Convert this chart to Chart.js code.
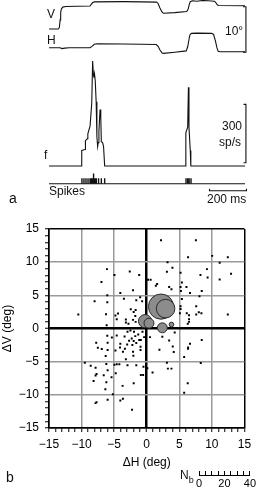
<!DOCTYPE html>
<html>
<head>
<meta charset="utf-8">
<script src="https://cdn.jsdelivr.net/npm/chart.js@4.4.1/dist/chart.umd.min.js"></script>
<style>
body{margin:0;width:258px;height:490px;position:relative;background:#fff;overflow:hidden;font-family:"Liberation Sans",Arial,sans-serif}
canvas{position:absolute}
.t{position:absolute;font-size:12px;line-height:12px;color:#111;white-space:nowrap}
.big{font-size:14px;line-height:14px}
</style>
</head>
<body>
<canvas id="chartA" width="210" height="200" style="left:40px;top:0"></canvas>
<canvas id="chartB" width="258" height="260" style="left:0;top:215px"></canvas>
<canvas id="chartN" width="68" height="24" style="left:190px;top:466px"></canvas>

<div class="t" style="left:47px;top:8px">V</div>
<div class="t" style="left:47px;top:34px">H</div>
<div class="t" style="left:225px;top:25px">10°</div>
<div class="t" style="left:44px;top:149px">f</div>
<div class="t" style="left:222px;top:120px">300</div>
<div class="t" style="left:219px;top:136px">sp/s</div>
<div class="t" style="left:49px;top:185px">Spikes</div>
<div class="t" style="left:207px;top:193px">200 ms</div>
<div class="t big" style="left:9px;top:191px">a</div>
<div class="t big" style="left:6px;top:470px">b</div>
<div class="t" style="left:180px;top:469px">N<span style="font-size:9px;position:relative;top:4px">b</span></div>

<script>
// ---- panel a: eye position traces (deg), time in ms
const vTime = [0, 50, 56, 60, 63, 67, 75, 90, 150, 222, 228, 236, 246, 400, 500, 582, 590, 600, 610, 618, 680, 745, 752, 758, 764, 775, 800, 830, 860, 895, 902, 910, 918, 1060]
const vDeg  = [0, 0, 0.3, 2.0, 3.6, 4.4, 4.8, 4.95, 5.0, 5.05, 5.4, 5.8, 5.95, 6.0, 5.95, 5.9, 5.6, 4.6, 3.8, 3.45, 3.6, 3.85, 4.3, 5.3, 6.0, 6.2, 6.1, 6.25, 6.2, 6.1, 5.8, 5.3, 5.15, 5.1]

const hTime = [0, 60, 70, 85, 110, 222, 232, 245, 260, 400, 500, 580, 590, 600, 612, 620, 680, 742, 750, 757, 762, 770, 800, 880, 890, 900, 908, 915, 925, 1060]
const hDeg  = [0, 0, -0.2, -0.1, 0, 0, 0.3, 0.75, 0.85, 0.8, 0.75, 0.7, 0.3, -0.5, -1.15, -1.25, -1.0, -0.7, 0.2, 1.8, 2.8, 3.15, 3.2, 3.15, 2.9, 1.5, 0.0, -0.8, -0.9, -0.9]

// firing rate (sp/s)
const fTime = [0, 176, 177, 195, 197, 207, 210, 222, 231, 236, 240, 243, 246, 250, 255, 259, 263, 266, 270, 276, 280, 283, 290, 295, 301, 736, 740, 750, 754, 757, 764, 767, 1060]
const fRate = [0, 0, 80, 85, 130, 140, 165, 205, 320, 540, 470, 455, 475, 440, 330, 150, 100, 120, 180, 290, 250, 125, 120, 100, 0, 0, 170, 200, 405, 200, 80, 0, 0]

// spike times (ms)
const spikeTime = [178, 189, 200, 211, 222, 229, 234, 236, 238, 241, 243, 245, 247, 249, 252, 254, 256, 268, 283, 301, 741, 750, 758, 768]
const spikeTall = [241]

// ---- panel b: saccade endpoint scatter (deg)
const dots = [
  [-6.1,8.95],[-4.95,8.05],[-2.6,8.6],[-1.15,8.05],[-6.95,7.0],[-4.05,5.35],[-2.1,5.75],[-6.05,5.0],[-8.0,4.1],[-6.05,3.95],
  [-3.5,4.5],[-1.6,4.25],[-1.0,4.7],[-0.7,4.1],[-2.45,2.9],[-1.7,2.8],[-10.5,2.1],[-6.25,2.15],[-4.4,2.25],[-4.8,1.95],
  [-4.6,1.4],[-3.2,1.35],[-3.2,0.9],[-1.75,1.9],[-6.15,0.5],[-1.7,1.0],[-0.5,1.85],[-2.8,0.7],[-2.1,1.3],[-0.9,1.45],[-2.0,2.5],
  [2.2,13.3],[7.55,13.3],[6.35,10.75],[10.05,10.95],[12.45,10.75],[11.2,9.9],[3.2,10.0],[3.95,9.15],[3.1,8.55],[5.2,8.4],
  [9.25,8.95],[12.95,8.25],[8.25,8.05],[9.35,7.7],[11.2,7.4],[0.2,7.35],[0.6,7.35],[1.6,6.7],[1.4,6.45],[5.4,6.95],
  [5.2,6.25],[6.1,6.25],[3.45,6.25],[3.8,5.9],[5.25,5.65],[6.65,5.35],[8.45,5.65],[8.1,4.85],[5.4,4.45],[5.2,3.35],
  [5.2,2.95],[7.6,3.35],[5.1,2.3],[6.15,2.3],[6.5,2.0],[7.6,2.1],[8.0,2.45],[8.4,2.3],[12.45,2.1],[6.5,1.4],[6.5,1.0],[6.3,0.7],
  [-6.05,-1.1],[-5.35,-1.35],[-4.6,-1.05],[-7.75,-2.15],[-6.0,-2.15],[-7.5,-2.9],[-6.9,-3.1],[-6.0,-3.25],[-6.3,-4.15],[-4.8,-3.3],
  [-4.05,-2.3],[-4.1,-2.85],[-3.65,-3.5],[-3.35,-3.05],[-3.0,-2.4],[-2.7,-1.85],[-2.3,-1.5],[-2.2,-2.5],[-2.0,-1.9],[-1.75,-1.15],
  [-2.1,-3.5],[-2.05,-4.1],[-1.15,-1.75],[-0.9,-1.75],[-0.95,-2.75],[-0.95,-3.25],[-1.95,-0.5],[-2.5,-0.3],[-2.95,-0.5],[-0.65,-0.5],
  [-3.2,-4.65],[-9.5,-5.15],[-8.6,-5.6],[-7.85,-5.9],[-6.2,-5.35],[-4.95,-5.45],[-4.6,-5.4],[-4.75,-6.75],[-4.2,-5.4],[-2.95,-5.55],
  [-1.6,-5.55],[-0.5,-5.75],[-0.55,-7.0],[-0.9,-7.0],[-6.0,-6.3],[-7.7,-6.85],[-7.85,-7.1],[-8.15,-7.9],[-6.6,-7.05],[-5.4,-7.35],
  [-6.2,-8.1],[-6.35,-9.15],[-3.7,-8.65],[-2.0,-8.25],[-5.2,-9.9],[-7.7,-11.1],[-7.85,-11.25],[-6.0,-10.75],[-4.05,-10.85],[-3.65,-10.6],
  [-2.25,-12.25],[-1.3,-0.9],[-0.4,-1.3],[-3.4,-1.2],[-1.6,-2.2],
  [0.5,-1.3],[2.4,-1.25],[4.3,-0.6],[3.45,-1.8],[1.95,-3.2],[4.0,-2.7],[4.15,-3.55],[6.65,-2.3],[6.35,-2.85],[6.35,-3.05],
  [8.45,-1.75],[5.75,-4.3],[3.1,-5.15],[3.25,-6.05],[3.8,-6.05],[8.3,-5.2],[0.1,-6.0],[0.9,-6.65],[6.3,-8.25],[5.75,-9.7]
]

// bursts with several saccades: position and count N_b
const bubH = [2.2, 2.9, -0.25, 0.35, 2.4, 3.8]
const bubV = [3.3, 3.0, 1.1, 0.8, 0.1, 0.6]
const bubN = [19, 14, 10, 7.5, 7.5, 3.5]

const nbPx = 53 / 40   // legend bar: 40 counts over 53 px of diameter

Chart.defaults.font.family = '"Liberation Sans", Arial, sans-serif'
Chart.defaults.color = '#000'
Chart.defaults.animation = false

const pts = (xs, ys) => xs.map((x, i) => ({x: x, y: ys[i]}))

const spikes = []
spikeTime.forEach(t => {
    spikes.push({x: t, y: 0}, {x: t, y: spikeTall.includes(t) ? 1.9 : 1}, {x: t, y: null})
})

const trace = (data, axis, w) => ({data: data, yAxisID: axis, borderColor: '#111', borderWidth: w || 1.1, pointRadius: 0, tension: 0, spanGaps: false})

new Chart('chartA', {
    type: 'line',
    data: {
        datasets: [
            trace(pts(vTime, vDeg), 'yV'),
            trace(pts(hTime, hDeg), 'yH'),
            trace(pts(fTime, fRate), 'yF'),
            trace(spikes, 'yS', 1.4),
            trace([{x: 0, y: 0}, {x: 1060, y: 0}], 'yS'),
            // scale bars
            trace([{x: 1049, y: 4.89}, {x: 1065, y: 4.89}, {x: 1065, y: -5.11}, {x: 1049, y: -5.11}], 'yV'),
            trace([{x: 1052, y: 317}, {x: 1065, y: 317}, {x: 1065, y: 17}, {x: 1052, y: 17}], 'yF'),
            trace([{x: 868, y: -0.95}, {x: 868, y: -1.3}, {x: 1068, y: -1.3}, {x: 1068, y: -0.95}], 'yS')
        ]
    },
    options: {
        responsive: false,
        plugins: {legend: {display: false}, tooltip: {enabled: false}},
        scales: {
            x: {type: 'linear', display: false, min: -48.7, max: 1087},
            yV: {display: false, min: -37.5, max: 6.36},
            yH: {display: false, min: -33.4, max: 10.46},
            yF: {display: false, min: -175, max: 854},
            yS: {display: false, min: -3.02, max: 34.0}
        }
    }
})

const fmt = v => v < 0 ? '\u2212' + (-v) : '' + v
const gridColor = c => {
    const v = c.tick.value
    if (v === 0 || Math.abs(v) === 15) return '#000'
    return v % 5 === 0 ? '#9a9a9a' : 'rgba(0,0,0,0)'
}
const gridWidth = c => c.tick.value === 0 ? 2.5 : 1.5

new Chart('chartB', {
    type: 'scatter',
    data: {
        datasets: [
            {
                type: 'bubble',
                order: 0,
                data: bubH.map((x, i) => ({x: x, y: bubV[i], r: bubN[i] * nbPx / 2})),
                backgroundColor: '#8c8c8c',
                borderColor: '#2a2a2a',
                borderWidth: 1
            },
            {
                order: 1,
                data: dots.map(d => ({x: d[0], y: d[1]})),
                pointStyle: 'rect',
                pointRadius: 1.4,
                backgroundColor: '#000',
                borderWidth: 0
            }
        ]
    },
    options: {
        responsive: false,
        layout: {padding: {top: 14, right: 11, left: 0, bottom: 0}},
        plugins: {legend: {display: false}, tooltip: {enabled: false}},
        scales: {
            x: {
                type: 'linear', min: -15, max: 15,
                ticks: {stepSize: 1, autoSkip: false, maxRotation: 0, padding: 5, font: {size: 12}, callback: v => v % 5 === 0 ? fmt(v) : ''},
                grid: {color: gridColor, lineWidth: gridWidth, tickColor: '#000', tickLength: 4, tickWidth: 1},
                border: {display: true, color: '#000', width: 1.5},
                title: {display: true, text: 'ΔH (deg)', font: {size: 12}, padding: {top: 5, bottom: 5}},
                afterFit: s => { s.height = 47 }
            },
            y: {
                type: 'linear', min: -15, max: 15,
                ticks: {stepSize: 1, autoSkip: false, padding: 6, font: {size: 12}, callback: v => v % 5 === 0 ? fmt(v) : ''},
                grid: {color: gridColor, lineWidth: gridWidth, tickColor: '#000', tickLength: 4, tickWidth: 1},
                border: {display: true, color: '#000', width: 1.5},
                title: {display: true, text: 'ΔV (deg)', font: {size: 12}, padding: {top: 0, bottom: 0}},
                afterFit: s => { s.width = 49 }
            }
        }
    }
})

// N_b size legend
new Chart('chartN', {
    type: 'scatter',
    data: {datasets: []},
    options: {
        responsive: false,
        layout: {padding: {top: 5, right: 6, left: 9, bottom: 0}},
        plugins: {legend: {display: false}, tooltip: {enabled: false}},
        scales: {
            x: {
                type: 'linear', min: 0, max: 40,
                ticks: {stepSize: 5, autoSkip: false, maxRotation: 0, padding: 2, font: {size: 11}, callback: v => v % 20 === 0 ? '' + v : ''},
                grid: {color: '#000', lineWidth: 1, drawTicks: false},
                border: {display: true, color: '#000', width: 1},
                afterFit: s => { s.height = 15 }
            },
            y: {display: false, min: 0, max: 1}
        }
    }
})
</script>
</body>
</html>
